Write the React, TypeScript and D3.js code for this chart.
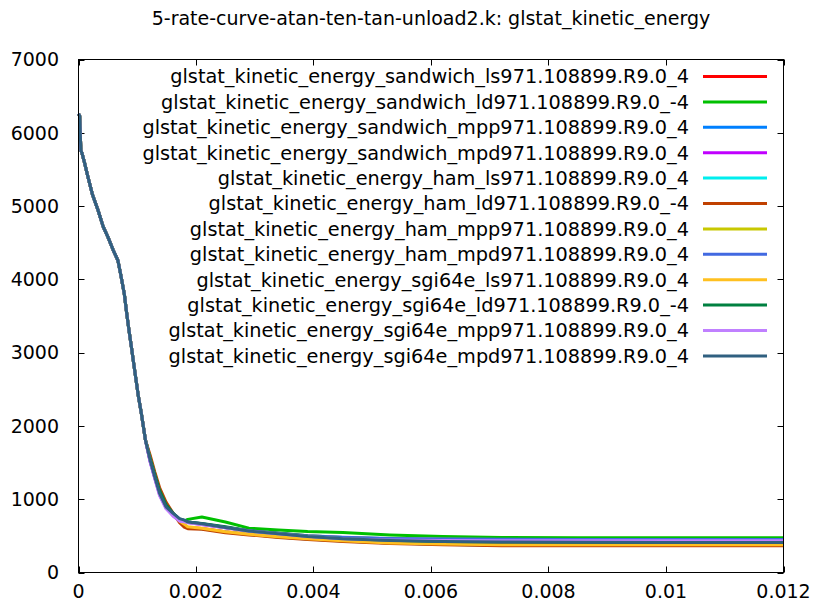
import React from 'react';
import * as d3 from 'd3';

const TITLE = '5-rate-curve-atan-ten-tan-unload2.k: glstat_kinetic_energy';

const X_TICKS = [0, 0.002, 0.004, 0.006, 0.008, 0.01, 0.012];
const X_TICK_LABELS = ['0', '0.002', '0.004', '0.006', '0.008', '0.01', '0.012'];
const Y_TICKS = [0, 1000, 2000, 3000, 4000, 5000, 6000, 7000];
const Y_TICK_LABELS = ['0', '1000', '2000', '3000', '4000', '5000', '6000', '7000'];

const SERIES_NAMES = [
  'glstat_kinetic_energy_sandwich_ls971.108899.R9.0_4',
  'glstat_kinetic_energy_sandwich_ld971.108899.R9.0_-4',
  'glstat_kinetic_energy_sandwich_mpp971.108899.R9.0_4',
  'glstat_kinetic_energy_sandwich_mpd971.108899.R9.0_4',
  'glstat_kinetic_energy_ham_ls971.108899.R9.0_4',
  'glstat_kinetic_energy_ham_ld971.108899.R9.0_-4',
  'glstat_kinetic_energy_ham_mpp971.108899.R9.0_4',
  'glstat_kinetic_energy_ham_mpd971.108899.R9.0_4',
  'glstat_kinetic_energy_sgi64e_ls971.108899.R9.0_4',
  'glstat_kinetic_energy_sgi64e_ld971.108899.R9.0_-4',
  'glstat_kinetic_energy_sgi64e_mpp971.108899.R9.0_4',
  'glstat_kinetic_energy_sgi64e_mpd971.108899.R9.0_4',
];

const SERIES_COLORS = [
  '#ff0000', '#00c000', '#0080ff', '#c000ff', '#00eeee', '#c04000',
  '#c8c800', '#4169e1', '#ffc020', '#008040', '#c080ff', '#306080',
];

// shared initial portion (all runs coincide)
const T_HEAD = [0, 0.00002, 0.00004, 0.00006, 0.0001, 0.00016, 0.00024, 0.00033, 0.00042, 0.0005,
  0.00059, 0.00067, 0.00072, 0.00078, 0.00082, 0.00086, 0.0009, 0.00094, 0.00098, 0.00102, 0.00107, 0.00114];
const V_HEAD = [6260, 6230, 5760, 5720, 5600, 5400, 5150, 4950, 4720, 4580,
  4400, 4260, 4060, 3800, 3540, 3300, 3080, 2850, 2625, 2400, 2170, 1805];

// individual later portions
const T_TAIL = [0.00122, 0.0013, 0.00138, 0.00149, 0.00161, 0.00172, 0.0018, 0.00186, 0.0021, 0.0025,
  0.0029, 0.0034, 0.0039, 0.0045, 0.0053, 0.0062, 0.0072, 0.0085, 0.01, 0.012];

const V_SANDWICH_LS = [1550, 1320, 1100, 910, 790, 700, 650, 615, 600, 555, 522, 488, 460, 432, 404, 388, 378, 377, 377, 377];
const V_SANDWICH_LD = [1545, 1320, 1110, 920, 800, 722, 700, 725, 758, 690, 605, 581, 560, 547, 513, 490, 476, 475, 475, 475];
const V_SANDWICH_MPP = [1525, 1295, 1085, 900, 795, 715, 700, 685, 660, 615, 568, 535, 500, 478, 462, 455, 452, 451, 450, 450];
const V_SANDWICH_MPD = [1510, 1280, 1060, 880, 775, 705, 695, 682, 656, 612, 566, 530, 492, 462, 445, 438, 434, 433, 433, 433];
const V_HAM_LS = [1560, 1330, 1110, 915, 795, 700, 645, 612, 598, 552, 520, 486, 458, 430, 402, 386, 370, 369, 369, 369];
const V_HAM_LD = [1600, 1370, 1160, 960, 810, 680, 620, 598, 590, 542, 513, 478, 451, 424, 396, 380, 366, 365, 365, 365];
const V_HAM_MPP = [1528, 1298, 1085, 900, 795, 716, 702, 686, 660, 614, 567, 534, 500, 477, 461, 454, 451, 450, 450, 450];
const V_HAM_MPD = [1520, 1290, 1075, 890, 790, 720, 712, 690, 665, 618, 570, 537, 503, 480, 463, 456, 453, 452, 452, 452];
const V_SGI_LS = [1550, 1320, 1100, 910, 792, 702, 660, 625, 605, 556, 522, 488, 460, 432, 404, 388, 378, 377, 377, 377];
const V_SGI_LD = [1560, 1335, 1120, 925, 810, 730, 712, 690, 668, 625, 570, 535, 496, 465, 440, 424, 416, 412, 410, 410];
const V_SGI_MPP = [1505, 1275, 1050, 870, 770, 700, 692, 680, 655, 612, 566, 530, 490, 460, 444, 437, 434, 433, 433, 433];
const V_SGI_MPD = [1530, 1300, 1080, 895, 806, 735, 715, 690, 665, 615, 565, 530, 492, 462, 438, 422, 415, 412, 410, 410];

const SERIES_TAILS = [
  V_SANDWICH_LS, V_SANDWICH_LD, V_SANDWICH_MPP, V_SANDWICH_MPD,
  V_HAM_LS, V_HAM_LD, V_HAM_MPP, V_HAM_MPD,
  V_SGI_LS, V_SGI_LD, V_SGI_MPP, V_SGI_MPD,
];

const W = 820;
const H = 608;
const LEFT = 78.5;
const RIGHT = 783.5;
const TOP = 59.5;
const BOTTOM = 572.5;
const FONT = '"DejaVu Sans", sans-serif';
const FS = 19;

export default function App() {
  const x = d3.scaleLinear().domain([0, 0.012]).range([LEFT, RIGHT]);
  const y = d3.scaleLinear().domain([0, 7000]).range([BOTTOM, TOP]);
  const line = d3
    .line<[number, number]>()
    .x((d) => x(d[0]))
    .y((d) => y(d[1]));

  const series = SERIES_TAILS.map((tail) => {
    const pts: [number, number][] = [];
    T_HEAD.forEach((t, i) => pts.push([t, V_HEAD[i]]));
    T_TAIL.forEach((t, i) => pts.push([t, tail[i]]));
    return pts;
  });

  const tick = 6;
  const legendY0 = 76.5;
  const legendStep = 25.4;

  return (
    <svg
      width={W}
      height={H}
      viewBox={`0 0 ${W} ${H}`}
      style={{ position: 'absolute', left: 0, top: 0, background: '#fff' }}
      fontFamily={FONT}
      fontSize={FS}
    >
      <rect x={0} y={0} width={W} height={H} fill="#fff" />
      <text x={431} y={25} textAnchor="middle" fill="#000">
        {TITLE}
      </text>

      {/* ticks */}
      <g stroke="#000" strokeWidth={1}>
        {X_TICKS.map((t, i) => (
          <g key={'xt' + i}>
            <line x1={Math.round(x(t)) + 0.5} x2={Math.round(x(t)) + 0.5} y1={BOTTOM} y2={BOTTOM - tick} />
            <line x1={Math.round(x(t)) + 0.5} x2={Math.round(x(t)) + 0.5} y1={TOP} y2={TOP + tick} />
          </g>
        ))}
        {Y_TICKS.map((v, i) => (
          <g key={'yt' + i}>
            <line x1={LEFT} x2={LEFT + tick} y1={Math.round(y(v)) + 0.5} y2={Math.round(y(v)) + 0.5} />
            <line x1={RIGHT} x2={RIGHT - tick} y1={Math.round(y(v)) + 0.5} y2={Math.round(y(v)) + 0.5} />
          </g>
        ))}
      </g>

      {X_TICKS.map((t, i) => (
        <text key={'xl' + i} x={x(t)} y={598} textAnchor="middle" fill="#000">
          {X_TICK_LABELS[i]}
        </text>
      ))}
      {Y_TICKS.map((v, i) => (
        <text key={'yl' + i} x={59} y={y(v)} dy="0.36em" textAnchor="end" fill="#000">
          {Y_TICK_LABELS[i]}
        </text>
      ))}

      {/* legend */}
      {SERIES_NAMES.map((name, i) => (
        <g key={'lg' + i}>
          <text x={689} y={legendY0 + i * legendStep} dy="0.36em" textAnchor="end" fill="#000" fontSize={19.3}>
            {name}
          </text>
          <line
            x1={703}
            x2={767}
            y1={legendY0 + i * legendStep}
            y2={legendY0 + i * legendStep}
            stroke={SERIES_COLORS[i]}
            strokeWidth={3}
          />
        </g>
      ))}

      {/* curves */}
      <g fill="none" strokeWidth={3} strokeLinejoin="round">
        {series.map((pts, i) => (
          <path key={'s' + i} d={line(pts) || ''} stroke={SERIES_COLORS[i]} />
        ))}
      </g>

      {/* frame */}
      <rect x={LEFT} y={TOP} width={RIGHT - LEFT} height={BOTTOM - TOP} fill="none" stroke="#000" strokeWidth={1} />
    </svg>
  );
}
